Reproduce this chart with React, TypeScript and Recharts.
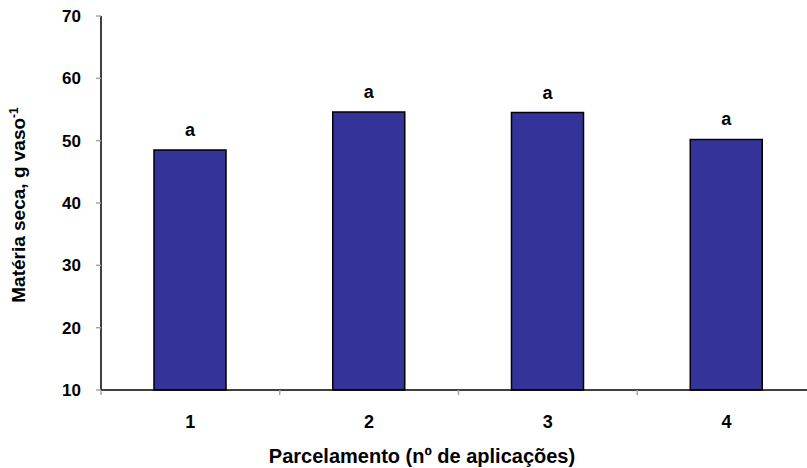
import React from 'react';
import { BarChart, Bar, XAxis, YAxis, LabelList, Label } from 'recharts';

const parcelamentos = ['1', '2', '3', '4'];
const materiaSeca = [48.5, 54.6, 54.5, 50.2];
const letras = ['a', 'a', 'a', 'a'];
const yTicks = [10, 20, 30, 40, 50, 60, 70];

const data = parcelamentos.map((p, i) => ({
  parcelamento: p,
  materiaSeca: materiaSeca[i],
  letra: letras[i],
}));

const WIDTH = 830;
const HEIGHT = 468;
const Y_AXIS_WIDTH = 101;
const RIGHT_MARGIN = 14;
const X_AXIS_HEIGHT = 78;
const FONT = '"Liberation Sans", Arial, Helvetica, sans-serif';

// half of one category band, used to put tick marks between the bars
const halfBand = (WIDTH - Y_AXIS_WIDTH - RIGHT_MARGIN) / parcelamentos.length / 2;

const XTick = (props: any) => {
  const { x, y, payload } = props;
  const half = payload && payload.offset ? payload.offset : halfBand;
  const axisY = y - 5;
  return (
    <g>
      <line x1={x - half} y1={axisY} x2={x - half} y2={axisY + 5} stroke="#a6a6a6" strokeWidth={1.5} />
      <text x={x} y={axisY + 38} textAnchor="middle" fill="#000" fontFamily={FONT} fontWeight="bold" fontSize={18}>
        {payload.value}
      </text>
    </g>
  );
};

const YTitle = () => (
  <text
    x={25}
    y={205}
    transform="rotate(-90, 25, 205)"
    textAnchor="middle"
    fill="#000"
    fontFamily={FONT}
    fontWeight="bold"
    fontSize={19}
  >
    Matéria seca, g vaso
    <tspan fontSize={12} dy={-7}>-1</tspan>
  </text>
);

const XTitle = () => (
  <text x={422} y={463} textAnchor="middle" fill="#000" fontFamily={FONT} fontWeight="bold" fontSize={20}>
    Parcelamento (nº de aplicações)
  </text>
);

const LetraLabel = (props: any) => {
  const { x, y, width, value } = props;
  return (
    <text x={x + width / 2} y={y - 14} textAnchor="middle" fill="#000" fontFamily={FONT} fontWeight="bold" fontSize={18}>
      {value}
    </text>
  );
};

export default function App() {
  return (
    <div style={{ position: 'absolute', left: 0, top: 0, width: 807, height: HEIGHT, overflow: 'hidden', background: '#fff' }}>
      <BarChart
        width={WIDTH}
        height={HEIGHT}
        data={data}
        margin={{ top: 16, right: RIGHT_MARGIN, bottom: 0, left: 0 }}
      >
        <XAxis
          dataKey="parcelamento"
          height={X_AXIS_HEIGHT}
          axisLine={{ stroke: '#000', strokeWidth: 1.5 }}
          tickLine={false}
          tickSize={5}
          tickMargin={0}
          tick={<XTick />}
          interval={0}
        >
          <Label content={<XTitle />} />
        </XAxis>
        <YAxis
          width={Y_AXIS_WIDTH}
          domain={[10, 70]}
          ticks={yTicks}
          interval={0}
          axisLine={{ stroke: '#000', strokeWidth: 1.5 }}
          tickLine={{ stroke: '#a6a6a6', strokeWidth: 1.5 }}
          tickSize={5}
          tickMargin={15}
          tick={{ fill: '#000', fontFamily: FONT, fontWeight: 'bold', fontSize: 17 }}
        >
          <Label content={<YTitle />} />
        </YAxis>
        <Bar
          dataKey="materiaSeca"
          fill="#333399"
          stroke="#000"
          strokeWidth={1.5}
          barSize={72}
          isAnimationActive={false}
        >
          <LabelList dataKey="letra" content={<LetraLabel />} />
        </Bar>
      </BarChart>
    </div>
  );
}
